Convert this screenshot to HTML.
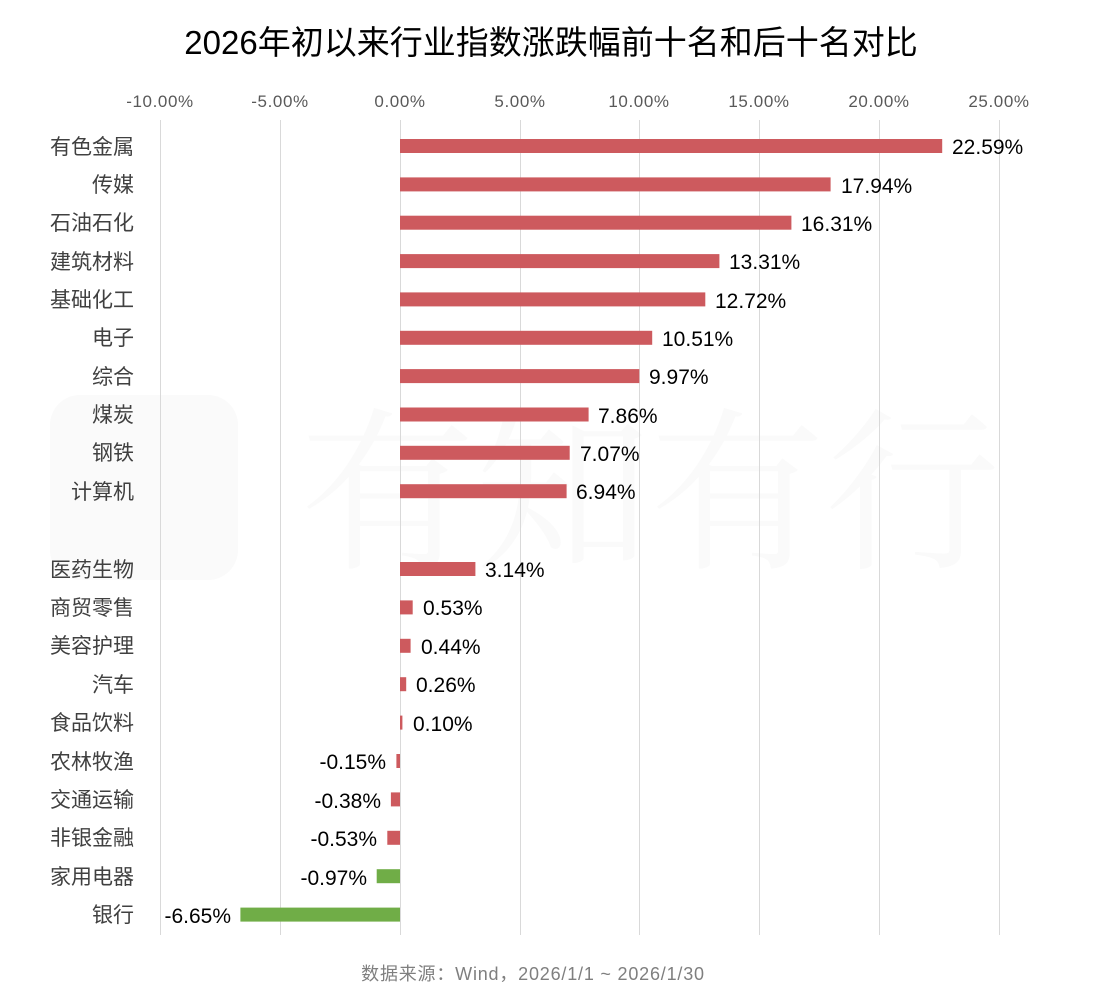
<!DOCTYPE html>
<html><head><meta charset="utf-8"><style>
html,body{margin:0;padding:0;background:#fff;}
svg{display:block;font-family:"Liberation Sans","Noto Sans CJK SC",sans-serif;}
</style></head><body>
<svg width="1112" height="1000" viewBox="0 0 1112 1000" xmlns="http://www.w3.org/2000/svg">
<rect width="1112" height="1000" fill="#fff"/>
<!-- watermark -->
<rect x="50" y="395" width="188" height="185" rx="30" fill="#fafafa"/>
<text x="300" y="555" font-family="Noto Serif CJK SC, serif" font-size="175" fill="#fafafa">有知有行</text>
<text x="551" y="54" text-anchor="middle" font-size="33" fill="#000">2026年初以来行业指数涨跌幅前十名和后十名对比</text>
<g stroke="#d9d9d9" stroke-width="1">
<line x1="160.5" y1="120" x2="160.5" y2="935"/>
<line x1="280.5" y1="120" x2="280.5" y2="935"/>
<line x1="400.5" y1="120" x2="400.5" y2="935"/>
<line x1="520.5" y1="120" x2="520.5" y2="935"/>
<line x1="639.5" y1="120" x2="639.5" y2="935"/>
<line x1="759.5" y1="120" x2="759.5" y2="935"/>
<line x1="879.5" y1="120" x2="879.5" y2="935"/>
<line x1="999.5" y1="120" x2="999.5" y2="935"/>
</g>
<g font-size="17" fill="#595959" text-anchor="middle" letter-spacing="0.6">
<text x="160" y="107">-10.00%</text><text x="280" y="107">-5.00%</text><text x="400" y="107">0.00%</text>
<text x="520" y="107">5.00%</text><text x="639" y="107">10.00%</text><text x="759" y="107">15.00%</text>
<text x="879" y="107">20.00%</text><text x="999" y="107">25.00%</text>
</g>
<g font-size="21" fill="#404040" text-anchor="end">
<text x="134" y="154">有色金属</text><text x="134" y="192">传媒</text><text x="134" y="230">石油石化</text>
<text x="134" y="269">建筑材料</text><text x="134" y="307">基础化工</text><text x="134" y="345">电子</text>
<text x="134" y="384">综合</text><text x="134" y="422">煤炭</text><text x="134" y="460">钢铁</text>
<text x="134" y="499">计算机</text>
<text x="134" y="577">医药生物</text><text x="134" y="615">商贸零售</text><text x="134" y="653">美容护理</text>
<text x="134" y="692">汽车</text><text x="134" y="730">食品饮料</text><text x="134" y="769">农林牧渔</text>
<text x="134" y="807">交通运输</text><text x="134" y="845">非银金融</text><text x="134" y="884">家用电器</text>
<text x="134" y="922">银行</text>
</g>
<g fill="#cd5a5e">
<rect x="400" y="139" width="542.2" height="14"/>
<rect x="400" y="177.4" width="430.6" height="14"/>
<rect x="400" y="215.7" width="391.4" height="14"/>
<rect x="400" y="254.1" width="319.4" height="14"/>
<rect x="400" y="292.4" width="305.3" height="14"/>
<rect x="400" y="330.8" width="252.2" height="14"/>
<rect x="400" y="369.1" width="239.3" height="14"/>
<rect x="400" y="407.5" width="188.6" height="14"/>
<rect x="400" y="445.8" width="169.7" height="14"/>
<rect x="400" y="484.2" width="166.6" height="14"/>
<rect x="400" y="562" width="75.4" height="14"/>
<rect x="400" y="600.4" width="12.7" height="14"/>
<rect x="400" y="638.8" width="10.6" height="14"/>
<rect x="400" y="677.2" width="6.2" height="14"/>
<rect x="400" y="715.6" width="2.4" height="14"/>
<rect x="396.4" y="754" width="3.6" height="14"/>
<rect x="390.9" y="792.4" width="9.1" height="14"/>
<rect x="387.3" y="830.8" width="12.7" height="14"/>
</g>
<g fill="#70ad47">
<rect x="376.7" y="869.2" width="23.3" height="14"/>
<rect x="240.4" y="907.6" width="159.6" height="14"/>
</g>
<g font-size="21" fill="#000">
<text x="952" y="154">22.59%</text><text x="841" y="193">17.94%</text><text x="801" y="231">16.31%</text>
<text x="729" y="269">13.31%</text><text x="715" y="308">12.72%</text><text x="662" y="346">10.51%</text>
<text x="649" y="384">9.97%</text><text x="598" y="423">7.86%</text><text x="580" y="461">7.07%</text>
<text x="576" y="499">6.94%</text>
<text x="485" y="577">3.14%</text><text x="423" y="615">0.53%</text><text x="421" y="654">0.44%</text>
<text x="416" y="692">0.26%</text><text x="413" y="731">0.10%</text>
</g>
<g font-size="21" fill="#000" text-anchor="end">
<text x="386" y="769">-0.15%</text><text x="381" y="808">-0.38%</text><text x="377" y="846">-0.53%</text>
<text x="367" y="885">-0.97%</text><text x="231" y="923">-6.65%</text>
</g>
<text x="533" y="980" text-anchor="middle" font-size="18" fill="#7f7f7f" letter-spacing="0.8">数据来源：Wind，2026/1/1 ~ 2026/1/30</text>
</svg>
</body></html>
